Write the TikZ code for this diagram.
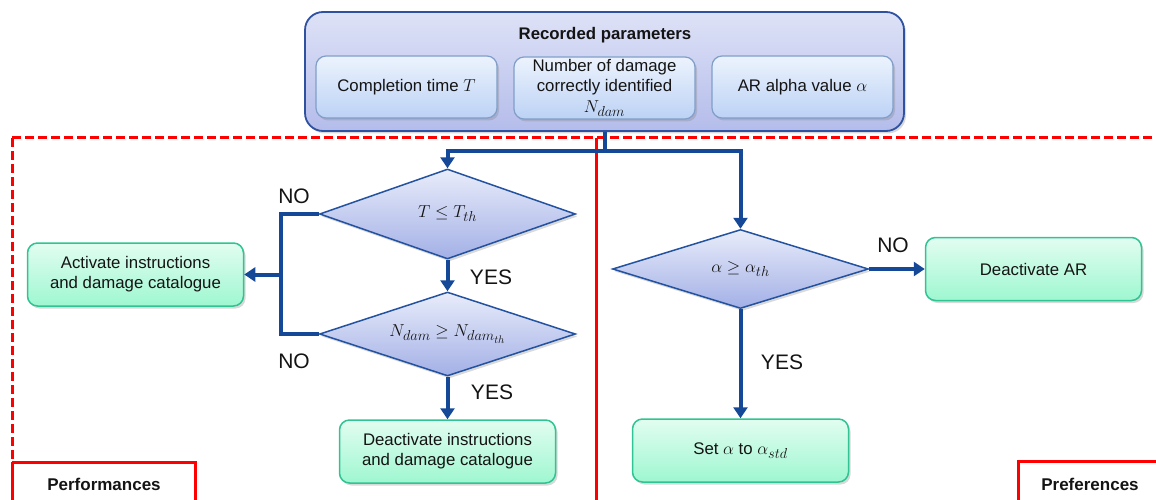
\documentclass[tikz,border=0pt]{standalone}
\usepackage{fontspec}
\setmainfont{Liberation Sans}
\newcommand{\subA}[1]{_{\hbox{\fontsize{13.5}{14}\selectfont$#1$}}}
\newcommand{\subB}[1]{_{\hbox{\fontsize{10.5}{11}\selectfont$#1$}}}
\usetikzlibrary{shapes.geometric,arrows.meta,shadows}
\definecolor{conn}{RGB}{22,72,152}
\definecolor{outerbd}{RGB}{47,82,160}
\definecolor{outertop}{RGB}{222,226,247}
\definecolor{outerbot}{RGB}{180,188,234}
\definecolor{innerbd}{RGB}{128,158,200}
\definecolor{innertop}{RGB}{236,243,253}
\definecolor{innerbot}{RGB}{188,210,245}
\definecolor{diabd}{RGB}{35,82,160}
\definecolor{diatop}{RGB}{232,236,250}
\definecolor{diabot}{RGB}{163,176,230}
\definecolor{grnbd}{RGB}{48,196,148}
\definecolor{grntop}{RGB}{226,253,241}
\definecolor{grnbot}{RGB}{158,247,208}
\definecolor{redl}{RGB}{255,0,0}
\definecolor{txt}{RGB}{20,20,20}
\tikzset{
  shd/.style={drop shadow={opacity=0.3,shadow xshift=2pt,shadow yshift=-2.5pt}},
  outerbox/.style={draw=outerbd,line width=1.8pt,rounded corners=18pt,top color=outertop,bottom color=outerbot,shd,minimum width=599pt,minimum height=119pt,inner sep=0pt},
  innerbox/.style={draw=innerbd,line width=1.2pt,rounded corners=10pt,top color=innertop,bottom color=innerbot,shd,minimum width=181pt,minimum height=62pt,inner sep=0pt,align=center,font=\fontsize{16.8}{20}\selectfont,text=txt},
  decision/.style={diamond,draw=diabd,line width=1.5pt,top color=diatop,bottom color=diabot,shd,minimum width=256pt,inner sep=0pt,aspect=3,font=\fontsize{17.5}{20}\selectfont,text=txt},
  actionbox/.style={draw=grnbd,line width=1.5pt,rounded corners=10pt,top color=grntop,bottom color=grnbot,shd,minimum width=216pt,minimum height=63pt,inner sep=0pt,align=center,font=\fontsize{16.8}{20}\selectfont,text=txt},
  lbl/.style={font=\fontsize{21}{24}\selectfont,text=txt,inner sep=0pt},
  seclbl/.style={font=\bfseries\fontsize{17}{20}\selectfont,text=txt,inner sep=0pt},
  conline/.style={draw=conn,line width=4pt},
  conarrow/.style={draw=conn,line width=4pt,-{Triangle[width=14pt,length=11pt]}},
  redsolid/.style={draw=redl,line width=3pt},
  reddash/.style={draw=redl,line width=3pt,dash pattern=on 9pt off 4pt},
}
\begin{document}
\begin{tikzpicture}[x=1pt,y=-1pt]
\useasboundingbox (0,0) rectangle (1156,500);

% red frame
\draw[reddash] (12,138) -- (1156,138);
\draw[reddash] (12,138) -- (12,462);
\draw[redsolid] (12,462) -- (12,500);
\draw[redsolid] (12,462) -- (195,462) -- (195,500);
\draw[redsolid] (596,138) -- (596,500);
\draw[redsolid] (1018,500) -- (1018,461) -- (1156,461);
\node[seclbl] (perf) at (104,484) {Performances};
\node[seclbl] (pref) at (1090,484) {Preferences};

% recorded parameters
\node[outerbox] (rec) at (604.5,71.5) {};
\node[font=\bfseries\fontsize{16.8}{20}\selectfont,text=txt,inner sep=0pt] (rectitle) at (605,35) {Recorded parameters};
\node[innerbox] (p1) at (406.5,87) {Completion time $T$};
\node[innerbox] (p2) at (604.5,88) {Number of damage\\correctly identified\\[1pt]$N\subA{dam}$};
\node[innerbox] (p3) at (802.5,87) {AR alpha value $\alpha$};

% decisions
\node[decision,minimum height=90pt] (d1) at (447.5,214) {$T\le T\subA{th}$};
\node[decision,minimum height=84pt] (d2) at (447.5,334) {$N\subA{dam}\ge N\subA{dam\subB{th}}$};
\node[decision,minimum height=79pt] (d3) at (740.5,269) {$\alpha\ge\alpha\subA{th}$};

% actions
\node[actionbox] (act) at (135.5,274.5) {Activate instructions\\and damage catalogue};
\node[actionbox] (deact) at (447.5,451.5) {Deactivate instructions\\and damage catalogue};
\node[actionbox] (dar) at (1033.5,269) {Deactivate AR};
\node[actionbox] (setal) at (740.5,450.5) {Set $\alpha$ to $\alpha\subA{std}$};

% connectors
\coordinate (split) at (604.5,151);
\draw[conline] (rec.south) -- (split);
\draw[conarrow] ([xshift=2pt]split) -| (d1.north);
\draw[conarrow] ([xshift=-2pt]split) -| (d3.north);
\coordinate (nojoin) at (281,274.5);
\draw[conline] (d1.west) -| (nojoin) |- (d2.west);
\draw[conarrow] (nojoin) -- (act.east);
\draw[conarrow] (d1.south) -- (d2.north);
\draw[conarrow] (d2.south) -- (deact.north);
\draw[conarrow] (d3.east) -- (dar.west);
\draw[conarrow] (d3.south) -- (setal.north);

% labels
\node[lbl] (no1) at (294,196) {NO};
\node[lbl] (no2) at (294,361) {NO};
\node[lbl] (yes1) at (491,277) {YES};
\node[lbl] (yes2) at (492,392) {YES};
\node[lbl] (no3) at (893,245) {NO};
\node[lbl] (yes3) at (782,362) {YES};
\end{tikzpicture}
\end{document}
